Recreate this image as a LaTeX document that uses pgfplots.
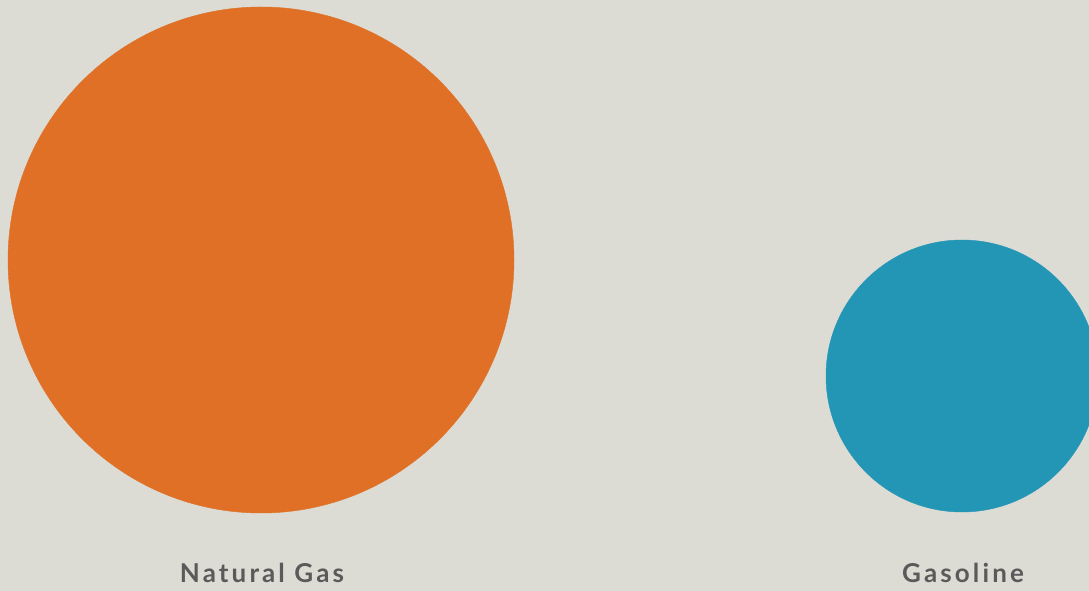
\documentclass[border=0pt]{standalone}
\usepackage{pgfplots}
\pgfplotsset{compat=1.18}
\usepackage{fontspec}
\setmainfont{Lato}
\newfontfamily\labelfont[LetterSpace=12]{Lato}
\definecolor{bgc}{HTML}{DCDBD4}
\definecolor{orng}{HTML}{E07026}
\definecolor{blu}{HTML}{2396B6}
\definecolor{txt}{HTML}{5A5A5A}
\begin{document}
\begin{tikzpicture}
\useasboundingbox (0,0) rectangle (1089pt,591pt);
\begin{axis}[
  at={(0,0)}, anchor=south west,
  scale only axis, width=1089pt, height=591pt,
  xmin=0, xmax=1089, ymin=0, ymax=591,
  hide axis,
  axis background/.style={fill=bgc},
  clip=true, clip mode=global,
]
\fill[bgc] (axis cs:0,0) rectangle (axis cs:1089,591);
\addplot[only marks, mark=*, mark size=253, color=orng, mark options={draw=none, fill=orng}] coordinates {(261,331)};
\addplot[only marks, mark=*, mark size=136, color=blu, mark options={draw=none, fill=blu}] coordinates {(962,215)};
\node[anchor=base, text=txt, font=\labelfont\bfseries\fontsize{26}{30}\selectfont, inner sep=0pt] at (axis cs:262,8) {Natural Gas};
\node[anchor=base, text=txt, font=\labelfont\bfseries\fontsize{26}{30}\selectfont, inner sep=0pt] at (axis cs:963,8) {Gasoline};
\end{axis}
\end{tikzpicture}
\end{document}
